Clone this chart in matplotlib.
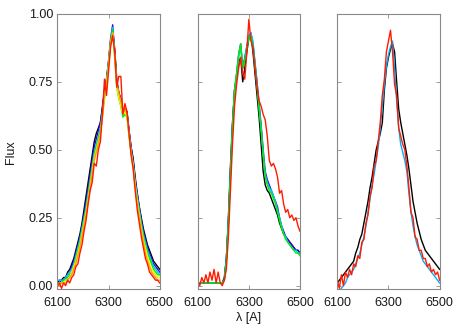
import numpy as np
import matplotlib
matplotlib.use('Agg')
import matplotlib.pyplot as plt

plt.rcParams['font.family'] = ['Liberation Sans', 'DejaVu Sans']

# wavelength grid (Angstrom), 8 A steps
wave = np.arange(6100, 6501, 8)

# ---- panel 1 : seven epochs ----
p1_black = [0.01, 0.02, 0.02, 0.03, 0.03, 0.05, 0.06, 0.08, 0.10, 0.13, 0.16, 0.19, 0.23, 0.28, 0.33, 0.38, 0.43,
            0.48, 0.53, 0.56, 0.58, 0.60, 0.66, 0.72, 0.76, 0.82, 0.90, 0.94, 0.87, 0.76, 0.71, 0.69, 0.64, 0.65,
            0.64, 0.57, 0.51, 0.47, 0.40, 0.34, 0.29, 0.25, 0.21, 0.18, 0.15, 0.13, 0.11, 0.09, 0.08, 0.07, 0.06]
p1_blue = [0.01, 0.01, 0.02, 0.02, 0.03, 0.04, 0.05, 0.07, 0.09, 0.12, 0.15, 0.18, 0.22, 0.26, 0.31, 0.36, 0.41,
           0.46, 0.51, 0.54, 0.57, 0.60, 0.65, 0.71, 0.76, 0.83, 0.91, 0.96, 0.86, 0.75, 0.71, 0.68, 0.64, 0.65,
           0.64, 0.57, 0.51, 0.46, 0.39, 0.34, 0.29, 0.24, 0.20, 0.17, 0.14, 0.12, 0.10, 0.08, 0.07, 0.06, 0.05]
p1_cyan = [0.02, 0.02, 0.02, 0.02, 0.03, 0.04, 0.05, 0.06, 0.08, 0.11, 0.14, 0.17, 0.21, 0.25, 0.29, 0.34, 0.39,
           0.44, 0.49, 0.52, 0.55, 0.58, 0.64, 0.70, 0.75, 0.82, 0.90, 0.95, 0.85, 0.74, 0.70, 0.67, 0.63, 0.64,
           0.63, 0.56, 0.50, 0.45, 0.38, 0.33, 0.28, 0.23, 0.19, 0.16, 0.13, 0.11, 0.09, 0.07, 0.06, 0.05, 0.04]
p1_green = [0.01, 0.01, 0.01, 0.02, 0.02, 0.03, 0.04, 0.05, 0.07, 0.10, 0.13, 0.16, 0.20, 0.24, 0.28, 0.33, 0.38,
            0.43, 0.48, 0.51, 0.54, 0.57, 0.63, 0.69, 0.75, 0.82, 0.90, 0.94, 0.84, 0.73, 0.69, 0.66, 0.62, 0.63,
            0.62, 0.55, 0.49, 0.44, 0.37, 0.32, 0.27, 0.22, 0.18, 0.15, 0.12, 0.10, 0.08, 0.06, 0.05, 0.04, 0.04]
p1_yellow = [0.00, 0.01, 0.01, 0.01, 0.02, 0.02, 0.03, 0.05, 0.07, 0.09, 0.12, 0.15, 0.19, 0.23, 0.27, 0.32, 0.37,
             0.42, 0.47, 0.50, 0.53, 0.56, 0.62, 0.69, 0.74, 0.81, 0.89, 0.93, 0.84, 0.73, 0.69, 0.66, 0.63, 0.64,
             0.62, 0.55, 0.49, 0.44, 0.37, 0.31, 0.26, 0.21, 0.17, 0.14, 0.11, 0.08, 0.06, 0.05, 0.04, 0.03, 0.03]
p1_orange = [0.00, 0.00, 0.01, 0.01, 0.01, 0.02, 0.03, 0.04, 0.06, 0.08, 0.11, 0.14, 0.18, 0.22, 0.26, 0.31, 0.36,
             0.41, 0.46, 0.49, 0.52, 0.56, 0.62, 0.70, 0.74, 0.81, 0.89, 0.93, 0.85, 0.75, 0.71, 0.68, 0.64, 0.65,
             0.63, 0.56, 0.49, 0.44, 0.36, 0.30, 0.25, 0.20, 0.16, 0.12, 0.09, 0.07, 0.05, 0.04, 0.03, 0.02, 0.02]
p1_red = [0.00, 0.01, -0.01, 0.01, 0.00, 0.02, 0.01, 0.03, 0.04, 0.07, 0.08, 0.12, 0.15, 0.20, 0.24, 0.30, 0.35,
          0.38, 0.45, 0.44, 0.50, 0.53, 0.63, 0.76, 0.70, 0.79, 0.88, 0.92, 0.86, 0.73, 0.77, 0.77, 0.63, 0.67,
          0.64, 0.56, 0.48, 0.43, 0.35, 0.28, 0.23, 0.18, 0.14, 0.10, 0.08, 0.05, 0.04, 0.03, 0.02, 0.02, 0.01]

# ---- panel 2 : five epochs ----
p2_black = [0.01, 0.01, 0.01, 0.01, 0.01, 0.01, 0.01, 0.01, 0.01, 0.01, 0.01, 0.01, 0.01, 0.03, 0.10, 0.25, 0.44,
            0.60, 0.72, 0.76, 0.82, 0.84, 0.75, 0.80, 0.86, 0.91, 0.92, 0.86, 0.78, 0.70, 0.62, 0.52, 0.42, 0.37,
            0.35, 0.34, 0.32, 0.30, 0.28, 0.26, 0.23, 0.21, 0.19, 0.18, 0.17, 0.16, 0.15, 0.14, 0.13, 0.13, 0.12]
p2_blue = [0.01, 0.01, 0.01, 0.01, 0.01, 0.01, 0.01, 0.01, 0.01, 0.01, 0.01, 0.01, 0.01, 0.02, 0.10, 0.24, 0.42,
           0.59, 0.72, 0.78, 0.85, 0.89, 0.80, 0.84, 0.88, 0.92, 0.93, 0.89, 0.82, 0.75, 0.67, 0.59, 0.50, 0.42,
           0.39, 0.37, 0.35, 0.33, 0.31, 0.29, 0.25, 0.22, 0.20, 0.18, 0.17, 0.16, 0.15, 0.14, 0.13, 0.13, 0.12]
p2_cyan = [0.01, 0.01, 0.01, 0.01, 0.01, 0.01, 0.01, 0.01, 0.01, 0.01, 0.01, 0.01, 0.01, 0.02, 0.09, 0.23, 0.41,
           0.58, 0.71, 0.77, 0.84, 0.88, 0.80, 0.83, 0.88, 0.92, 0.93, 0.90, 0.82, 0.74, 0.66, 0.58, 0.49, 0.41,
           0.38, 0.36, 0.35, 0.33, 0.31, 0.28, 0.25, 0.22, 0.19, 0.18, 0.16, 0.15, 0.14, 0.13, 0.13, 0.12, 0.12]
p2_green = [0.01, 0.01, 0.01, 0.01, 0.01, 0.01, 0.01, 0.01, 0.01, 0.01, 0.01, 0.01, 0.01, 0.02, 0.09, 0.23, 0.41,
            0.58, 0.72, 0.78, 0.85, 0.89, 0.80, 0.83, 0.87, 0.91, 0.92, 0.88, 0.81, 0.73, 0.65, 0.57, 0.48, 0.40,
            0.37, 0.35, 0.34, 0.32, 0.30, 0.27, 0.24, 0.21, 0.19, 0.17, 0.16, 0.15, 0.14, 0.13, 0.12, 0.12, 0.11]
p2_red = [0.02, 0.00, 0.03, 0.01, 0.04, 0.01, 0.05, 0.02, 0.06, 0.01, 0.05, 0.01, 0.00, 0.02, 0.06, 0.18, 0.35,
          0.52, 0.66, 0.74, 0.80, 0.84, 0.78, 0.76, 0.86, 0.98, 0.90, 0.88, 0.80, 0.73, 0.68, 0.66, 0.63, 0.61,
          0.55, 0.46, 0.44, 0.45, 0.43, 0.40, 0.34, 0.35, 0.30, 0.27, 0.28, 0.25, 0.26, 0.24, 0.25, 0.22, 0.20]

# ---- panel 3 : three epochs ----
p3_black = [0.01, 0.02, 0.03, 0.04, 0.05, 0.06, 0.07, 0.08, 0.09, 0.12, 0.14, 0.17, 0.19, 0.23, 0.27, 0.31, 0.36,
            0.40, 0.45, 0.50, 0.53, 0.56, 0.60, 0.72, 0.80, 0.84, 0.87, 0.89, 0.86, 0.75, 0.65, 0.60, 0.56, 0.52,
            0.48, 0.43, 0.37, 0.31, 0.27, 0.23, 0.20, 0.17, 0.15, 0.13, 0.12, 0.11, 0.10, 0.09, 0.08, 0.07, 0.06]
p3_cyan = [-0.02, -0.02, -0.01, 0.00, 0.01, 0.03, 0.04, 0.05, 0.06, 0.08, 0.10, 0.12, 0.15, 0.18, 0.22, 0.27,
           0.32, 0.37, 0.41, 0.46, 0.51, 0.58, 0.66, 0.74, 0.81, 0.85, 0.88, 0.90, 0.80, 0.68, 0.58, 0.52, 0.49,
           0.46, 0.42, 0.34, 0.27, 0.22, 0.18, 0.15, 0.13, 0.11, 0.09, 0.08, 0.07, 0.06, 0.05, 0.04, 0.03, 0.02, 0.01]
p3_red = [0.02, -0.01, 0.04, 0.00, 0.05, 0.03, 0.06, 0.04, 0.08, 0.07, 0.11, 0.10, 0.16, 0.17, 0.23, 0.26, 0.33,
          0.36, 0.44, 0.46, 0.53, 0.60, 0.70, 0.76, 0.86, 0.90, 0.94, 0.86, 0.74, 0.70, 0.58, 0.55, 0.52, 0.50,
          0.44, 0.36, 0.27, 0.25, 0.18, 0.17, 0.13, 0.13, 0.10, 0.10, 0.07, 0.08, 0.05, 0.06, 0.04, 0.05, 0.02]

panels = [
    [(p1_black, 'black'), (p1_blue, '#3a00e0'), (p1_cyan, '#00c8ff'), (p1_green, '#00ee00'),
     (p1_yellow, '#f0f000'), (p1_orange, '#ffa000'), (p1_red, '#ff1a00')],
    [(p2_black, 'black'), (p2_blue, '#3a00e0'), (p2_cyan, '#00c8ff'), (p2_green, '#00ee00'),
     (p2_red, '#ff1a00')],
    [(p3_black, 'black'), (p3_cyan, '#00b0ff'), (p3_red, '#ff1a00')],
]

fig = plt.figure(figsize=(4.63, 3.31), dpi=100)
lefts = [0.124, 0.427, 0.7285]
frame = '#8a8a8a'

for i, curves in enumerate(panels):
    ax = fig.add_axes([lefts[i], 0.128, 0.221, 0.830])
    for flux, col in curves:
        ax.plot(wave, flux, color=col, lw=1.0)
    ax.set_xlim(6100, 6500)
    ax.set_ylim(-0.011, 1.0)
    ax.set_xticks([6100, 6300, 6500])
    ax.set_yticks([0.0, 0.25, 0.5, 0.75, 1.0])
    ax.tick_params(direction='in', top=True, right=True, length=3, width=0.6,
                   color=frame, labelsize=9, labelcolor='#1a1a1a')
    ax.tick_params(axis='x', pad=6)
    ax.tick_params(axis='y', pad=3)
    for sp in ax.spines.values():
        sp.set_color(frame)
        sp.set_linewidth(0.8)
    if i == 0:
        ax.set_yticklabels(['0.00', '0.25', '0.50', '0.75', '1.00'])
    else:
        ax.set_yticklabels([])

fig.text(0.024, 0.54, 'Flux', rotation=90, ha='center', va='center', fontsize=9, color='#1a1a1a')
fig.text(0.537, 0.04, 'λ [A]', ha='center', va='center', fontsize=9, color='#1a1a1a')

fig.savefig('out.png', dpi=100)
